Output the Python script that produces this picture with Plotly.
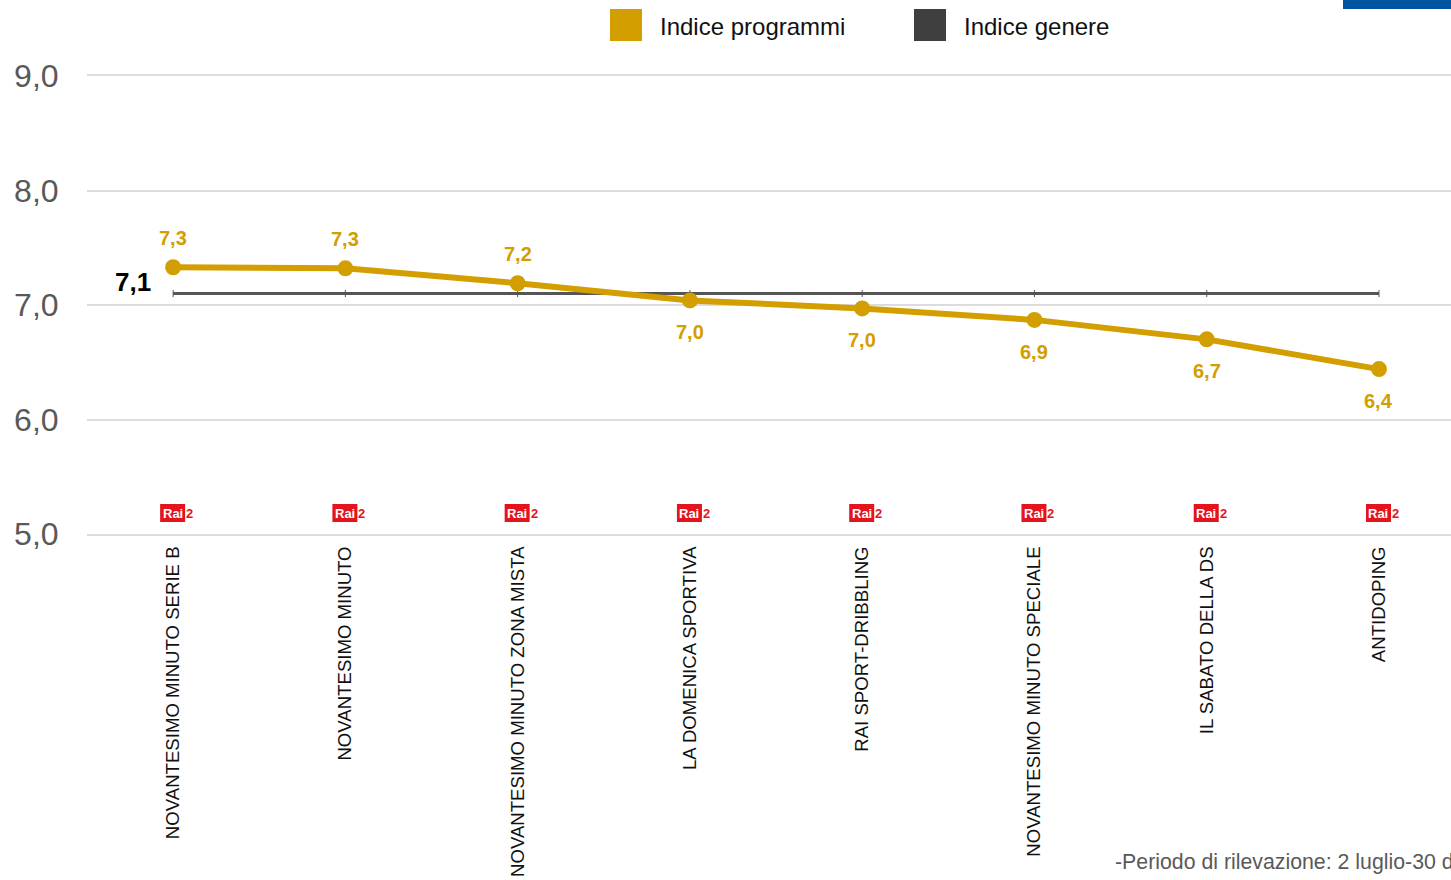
import plotly.graph_objects as go

# ---------------- data ----------------
programmi = ["NOVANTESIMO MINUTO SERIE B", "NOVANTESIMO MINUTO", "NOVANTESIMO MINUTO ZONA MISTA",
             "LA DOMENICA SPORTIVA", "RAI SPORT-DRIBBLING", "NOVANTESIMO MINUTO SPECIALE",
             "IL SABATO DELLA DS", "ANTIDOPING"]
indice_programmi = [7.33, 7.32, 7.19, 7.04, 6.97, 6.87, 6.70, 6.44]
indice_programmi_labels = ["7,3", "7,3", "7,2", "7,0", "7,0", "6,9", "6,7", "6,4"]
indice_genere = [7.1] * 8
indice_genere_label = "7,1"
canali = ["Rai2"] * 8
y_ticks = [5, 6, 7, 8, 9]
y_tick_labels = ["5,0", "6,0", "7,0", "8,0", "9,0"]
legend_names = ["Indice programmi", "Indice genere"]
nota = "-Periodo di rilevazione: 2 luglio-30 dicembre 2018"

# ---------------- style ----------------
GOLD = "#D29E00"
DARK = "#555555"
GRID = "#DCDCDC"
FONT = "Arial, Liberation Sans, sans-serif"
W, H = 1451, 880
ML, MR, MT, MB = 87, 0, 76, 346
PW, PH = W - ML - MR, H - MT - MB


def px(xp):
    return (xp - ML) / PW


def py(yp):
    return (H - MB - yp) / PH


idx = list(range(len(programmi)))

fig = go.Figure()

fig.add_trace(go.Scatter(
    x=idx, y=indice_genere, mode="lines+markers", name=legend_names[1],
    line=dict(color=DARK, width=3),
    marker=dict(symbol="line-ns", size=5, line=dict(color=DARK, width=1)),
    hoverinfo="skip"))

fig.add_trace(go.Scatter(
    x=idx, y=indice_programmi, mode="lines+markers", name=legend_names[0],
    line=dict(color=GOLD, width=6),
    marker=dict(color=GOLD, size=16),
    hoverinfo="skip"))

annotations = []
shapes = []

# data labels
for i, (v, g, lab) in enumerate(zip(indice_programmi, indice_genere, indice_programmi_labels)):
    above = v > g
    annotations.append(dict(
        x=i, y=v, xref="x", yref="y", text=f"<b>{lab}</b>", showarrow=False,
        yshift=29 if above else -32,
        font=dict(family=FONT, size=20, color=GOLD)))

annotations.append(dict(
    x=0, y=indice_genere[0], xref="x", yref="y", text=f"<b>{indice_genere_label}</b>",
    showarrow=False, xanchor="right", xshift=-20, yshift=12,
    font=dict(family=FONT, size=26, color="#000000")))

# channel logos (Rai2)
unit_x = PW / (7.418 + 0.5)
unit_y = PH / 4.0
for i, c in enumerate(canali):
    x0 = i - 13 / unit_x
    x1 = i + 12 / unit_x
    y0 = 5 + (534 - 522) / unit_y
    y1 = 5 + (534 - 504) / unit_y
    shapes.append(dict(type="rect", xref="x", yref="y", x0=x0, x1=x1, y0=y0, y1=y1,
                       fillcolor="#E3141E", line=dict(width=0), layer="above"))
    annotations.append(dict(x=(x0 + x1) / 2, y=(y0 + y1) / 2, xref="x", yref="y", text="<b>Rai</b>",
                            showarrow=False, font=dict(family=FONT, size=13, color="white")))
    annotations.append(dict(x=x1, y=(y0 + y1) / 2, xref="x", yref="y", text="<b>" + c[-1] + "</b>",
                            showarrow=False, xanchor="left", xshift=-1,
                            font=dict(family=FONT, size=13, color="#E3141E")))

# manual legend
for (x0p, tx, col, name) in [(610, 658, GOLD, legend_names[0]), (914, 962, "#3F3F3F", legend_names[1])]:
    shapes.append(dict(type="rect", xref="paper", yref="paper",
                       x0=px(x0p), x1=px(x0p + 32), y0=py(41), y1=py(9),
                       fillcolor=col, line=dict(width=0)))
    annotations.append(dict(x=px(tx), y=py(26), xref="paper", yref="paper", text=name,
                            showarrow=False, xanchor="left", yanchor="middle",
                            font=dict(family=FONT, size=24, color="#111111")))

# top-right blue bar
shapes.append(dict(type="rect", xref="paper", yref="paper",
                   x0=px(1343), x1=px(1460), y0=py(9), y1=py(-2),
                   fillcolor="#00539F", line=dict(width=0)))

# note
annotations.append(dict(x=px(1113), y=py(862), xref="paper", yref="paper", text=nota,
                        showarrow=False, xanchor="left", yanchor="middle",
                        font=dict(family=FONT, size=21.3, color="#595959")))

fig.update_layout(
    width=W, height=H,
    margin=dict(l=ML, r=MR, t=MT, b=MB, autoexpand=False),
    plot_bgcolor="white", paper_bgcolor="white",
    showlegend=False,
    annotations=annotations, shapes=shapes,
    xaxis=dict(
        range=[-0.5, 7.418], tickmode="array", tickvals=idx, ticktext=programmi,
        tickangle=-90, showgrid=False, zeroline=False,
        showline=True, mirror=True, linecolor=GRID, linewidth=2,
        ticks="outside", ticklen=3, tickcolor="rgba(0,0,0,0)", automargin=False,
        tickfont=dict(family=FONT, size=18.6, color="#111111"), fixedrange=True),
    yaxis=dict(
        range=[5, 9], tickmode="array", tickvals=y_ticks, ticktext=y_tick_labels,
        showgrid=True, gridcolor=GRID, gridwidth=2, zeroline=False, showline=False,
        ticks="outside", ticklen=21, tickcolor="rgba(0,0,0,0)", automargin=False,
        tickfont=dict(family=FONT, size=32, color="#595959"), fixedrange=True),
)

fig.write_html("out.html", config=dict(displayModeBar=False),
               post_script="document.body.style.margin='0px';document.body.style.overflow='hidden';")
